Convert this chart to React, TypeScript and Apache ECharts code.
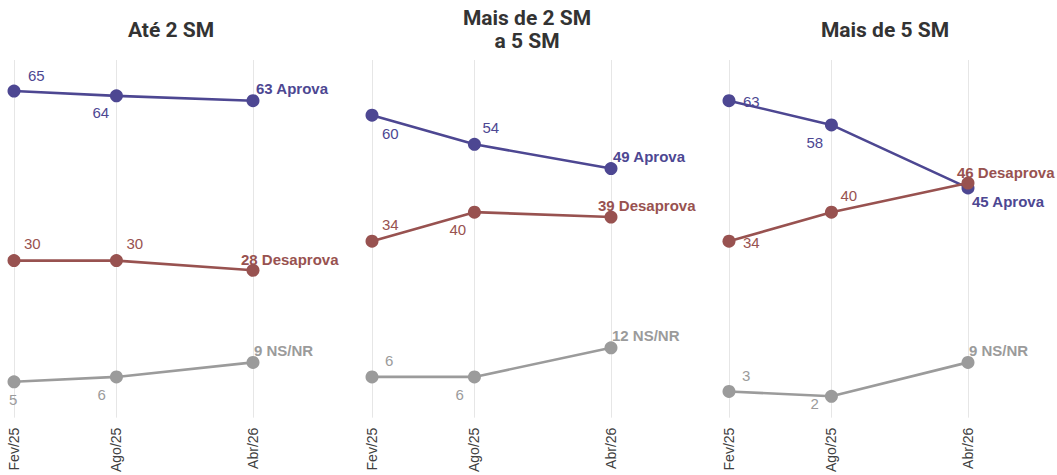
import React, { useEffect, useRef } from "react";
import * as echarts from "echarts";

// ---- data ----
const periods = ["Fev/25", "Ago/25", "Abr/26"];
const periodMonths = [0, 6, 14]; // months since Fev/25
const panelTitles = ["Até 2 SM", "Mais de 2 SM\na 5 SM", "Mais de 5 SM"];
const seriesNames = ["Aprova", "Desaprova", "NS/NR"];
const aprova = [
  [65, 64, 63],
  [60, 54, 49],
  [63, 58, 45],
];
const desaprova = [
  [30, 30, 28],
  [34, 40, 39],
  [34, 40, 46],
];
const nsnr = [
  [5, 6, 9],
  [6, 6, 12],
  [3, 2, 9],
];

// ---- styling / layout ----
const colors = ["#4d4792", "#985250", "#9b9b9b"];
const gridLefts = [14, 372, 729];
const gridWidth = 239;
const titleCenters = [166, 522, 880];
// label offsets [dx, dy] from point centre to text left edge / vertical middle
const labelOffsets = [
  [
    [[14, -16], [-24, 17], [3, -12]],
    [[10, -17], [10, -17], [-12, -11]],
    [[-5, 18], [-19, 18], [1, -12]],
  ],
  [
    [[10, 18], [8, -17], [2, -12]],
    [[10, -17], [-25, 17], [-13, -12]],
    [[13, -16], [-19, 18], [1, -12]],
  ],
  [
    [[14, 1], [-25, 18], [4, 14]],
    [[14, 1], [9, -17], [-11, -11]],
    [[13, -16], [-21, 7], [1, -12]],
  ],
];

const labelFont = "'Liberation Sans', Arial, sans-serif";

export default function App() {
  const ref = useRef<HTMLDivElement>(null);
  useEffect(() => {
    document.body.style.margin = "0";
    const chart = echarts.init(ref.current!, null, { renderer: "svg" });
    const allData = [aprova, desaprova, nsnr];

    const grids: any[] = [];
    const xAxes: any[] = [];
    const yAxes: any[] = [];
    const series: any[] = [];
    const titles: any[] = [];

    for (let p = 0; p < 3; p++) {
      grids.push({ left: gridLefts[p], width: gridWidth, top: 60, height: 358 });
      xAxes.push({
        type: "value",
        gridIndex: p,
        min: 0,
        max: 14,
        interval: 2,
        axisLine: { show: false },
        axisTick: { show: false },
        splitLine: { show: false },
        axisLabel: {
          rotate: 90,
          margin: 10,
          fontSize: 14,
          color: "#404040",
          fontFamily: labelFont,
          formatter: (v: number) => {
            const i = periodMonths.indexOf(v);
            return i >= 0 ? periods[i] : "";
          },
        },
      });
      yAxes.push({
        type: "value",
        gridIndex: p,
        min: -2.4,
        max: 71.4,
        show: false,
        splitLine: { show: false },
      });
      titles.push({
        text: panelTitles[p],
        left: titleCenters[p],
        top: p === 1 ? 1 : 13,
        textAlign: "center",
        textStyle: {
          fontFamily: "Roboto, 'Noto Sans', sans-serif",
          fontWeight: "bold",
          fontSize: 21,
          color: "#333333",
          lineHeight: 23,
        },
      });

      // gridlines
      series.push({
        type: "line",
        xAxisIndex: p,
        yAxisIndex: p,
        data: [],
        silent: true,
        z: 0,
        markLine: {
          silent: true,
          symbol: "none",
          z: 0,
          label: { show: false },
          lineStyle: { color: "#e6e6e6", width: 1, type: "solid" },
          data: periodMonths.map((m) => ({ xAxis: m })),
        },
      });

      for (let s = 0; s < 3; s++) {
        const vals = allData[s][p];
        series.push({
          type: "line",
          name: seriesNames[s],
          xAxisIndex: p,
          yAxisIndex: p,
          z: 2 + s,
          symbol: "circle",
          symbolSize: 13,
          lineStyle: { color: colors[s], width: 2.6 },
          itemStyle: { color: colors[s] },
          emphasis: { disabled: true },
          data: vals.map((v, i) => {
            const last = i === vals.length - 1;
            const off = labelOffsets[p][s][i];
            return {
              value: [periodMonths[i], v],
              label: {
                show: true,
                position: "inside",
                align: "left",
                verticalAlign: "middle",
                offset: off,
                fontFamily: labelFont,
                fontSize: 15,
                fontWeight: last ? "bold" : "normal",
                color: colors[s],
                formatter: last ? `${v} ${seriesNames[s]}` : `${v}`,
              },
            };
          }),
        });
      }
    }

    chart.setOption({
      animation: false,
      backgroundColor: "#ffffff",
      title: titles,
      grid: grids,
      xAxis: xAxes,
      yAxis: yAxes,
      series,
    });
    return () => chart.dispose();
  }, []);
  return <div ref={ref} style={{ width: 1057, height: 475 }} />;
}
